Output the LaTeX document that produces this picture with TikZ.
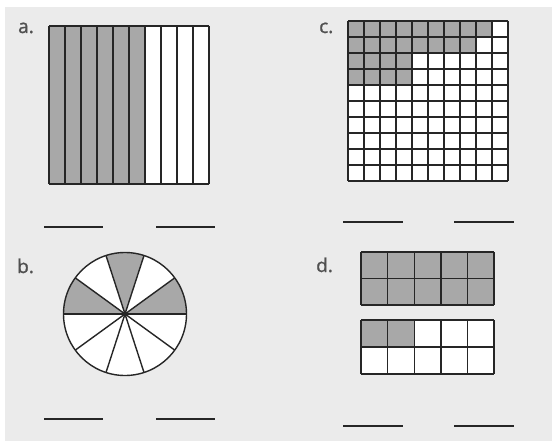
\documentclass[tikz,border=0pt]{standalone}
\usepackage{fontspec}
\setmainfont{Open Sans}
\newfontfamily\labelfont[FakeBold=1.2]{Open Sans}
\definecolor{panelbg}{HTML}{EBEBEB}
\definecolor{shadegray}{HTML}{A8A8A8}
\definecolor{labelgray}{HTML}{505050}
\tikzset{
  shade/.style={fill=shadegray},
  gridline/.style={line width=1.4pt, black!85},
  blank/.style={line width=1.3pt, black!85},
  partlabel/.style={anchor=base west, inner sep=0pt, text=labelgray, font=\labelfont\fontsize{19}{19}\selectfont}
}
\begin{document}
\begin{tikzpicture}[x=1pt,y=-1pt]
  \useasboundingbox (0,0) rectangle (552,441);
  \fill[white] (0,0) rectangle (552,441);
  \fill[panelbg] (5,7) rectangle (552,441);
  % labels
  \node[partlabel] (la) at (18,33) {a.};
  \node[partlabel] (lb) at (17,273) {b.};
  \node[partlabel] (lc) at (319,33) {c.};
  \node[partlabel] (ld) at (316,272) {d.};
  % a: ten strips, six shaded
  \fill[white] (49,26) rectangle (209,184);
  \foreach \i in {0,...,5}
    \fill[shade] (49+16*\i,26) rectangle ++(16,158);
  \foreach \i in {0,...,10}
    \draw[gridline] (49+16*\i,26) -- ++(0,158);
  \draw[gridline] (49,26) -- (209,26) (49,184) -- (209,184);
  \draw[blank] (44,227) -- (103,227) (156,227) -- (215,227);
  % b: circle in ten parts, three shaded
  \begin{scope}[shift={(125,314)},yscale=-1]
    \fill[white] (0,0) circle (61.5);
    \foreach \a in {0,72,144}
      \fill[shade] (0,0) -- (\a:61.5) arc (\a:\a+36:61.5) -- cycle;
    \foreach \a in {0,36,...,324}
      \draw[gridline] (0,0) -- (\a:61.5);
    \draw[gridline] (0,0) circle (61.5);
  \end{scope}
  \draw[blank] (44,419) -- (103,419) (156,419) -- (215,419);
  % c: hundred grid
  \fill[white] (348,21) rectangle (508,181);
  \foreach \r/\n in {0/9,1/8,2/4,3/4}
    \fill[shade] (348,21+16*\r) rectangle ++(16*\n,16);
  \foreach \i in {0,...,10} {
    \draw[gridline] (348+16*\i,21) -- ++(0,160);
    \draw[gridline] (348,21+16*\i) -- ++(160,0);
  }
  \draw[blank] (343,222) -- (403,222) (454,222) -- (514,222);
  % d: two rectangles of ten cells
  \fill[shade] (361,252) rectangle ++(133,53);
  \fill[white] (361,320) rectangle ++(133,54);
  \fill[shade] (361,320) rectangle ++(53.2,27);
  \foreach \y/\h in {252/53,320/54} {
    \foreach \i in {0,...,5}
      \draw[gridline] (361+26.6*\i,\y) -- ++(0,\h);
    \foreach \j in {0,1,2}
      \draw[gridline] (361,\y+\h/2*\j) -- ++(133,0);
  }
  \draw[blank] (343,426) -- (403,426) (454,426) -- (514,426);
\end{tikzpicture}
\end{document}
